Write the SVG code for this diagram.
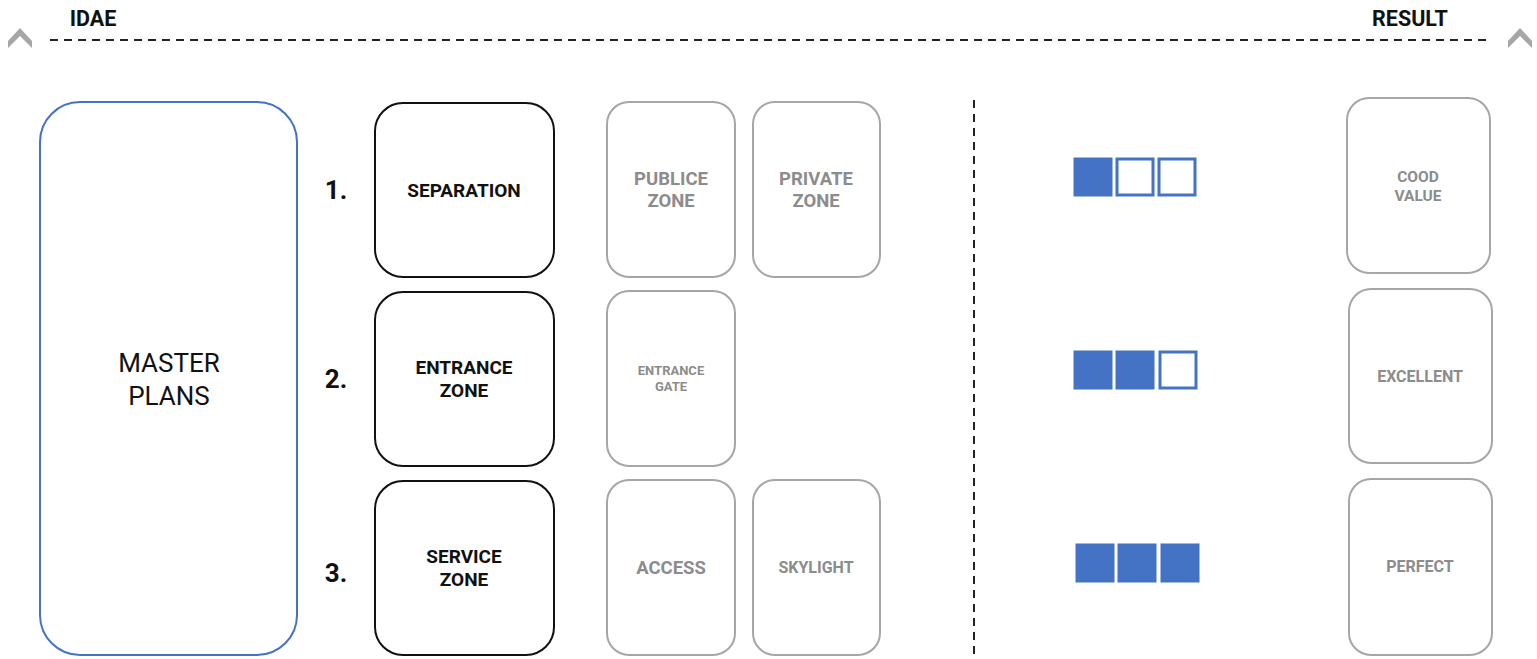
<svg xmlns="http://www.w3.org/2000/svg" width="1537" height="659" viewBox="0 0 1537 659">
<style>
text{font-family:Roboto,"Liberation Sans",sans-serif;text-anchor:middle}
.hd{font-size:21.5px;font-weight:bold;fill:#111}
.num{font-size:26px;font-weight:bold;fill:#111}
.blk{fill:#fff;stroke:#111;stroke-width:2}
.gry{fill:#fff;stroke:#a6a6a6;stroke-width:2}
.bt{font-size:19px;font-weight:bold;fill:#111}
.gt{font-weight:bold;fill:#8c8c8c}
.sqf{fill:#4472c4;stroke:#4472c4;stroke-width:1}
.sqe{fill:#fff;stroke:#4472c4;stroke-width:3}
.dash{stroke:#222;stroke-width:2;stroke-dasharray:8 6;fill:none}
.chev{fill:#a6a6a6}
</style>
<g id="header">
<text class="hd" x="93" y="26">IDAE</text>
<text class="hd" x="1410" y="26">RESULT</text>
<polygon class="chev" points="8,41 20,28 32,41 32,48 20,36 8,48"/>
<polygon class="chev" points="1508,41 1520,28 1532,41 1532,48 1520,36 1508,48"/>
</g>
<g id="connectors">
<line class="dash" x1="50" y1="40" x2="1490" y2="40"/>
<line class="dash" x1="974" y1="100" x2="974" y2="655"/>
</g>
<g id="master">
<rect x="40" y="102" width="257" height="553" rx="40" fill="#fff" stroke="#4472c4" stroke-width="2"/>
<text x="169" y="372" font-size="26" fill="#111">MASTER</text>
<text x="169" y="405" font-size="26" fill="#111">PLANS</text>
</g>
<g id="n1"><text class="num" x="336" y="199">1.</text></g>
<g id="n2"><text class="num" x="336" y="388">2.</text></g>
<g id="n3"><text class="num" x="336" y="582">3.</text></g>
<g id="separation">
<rect class="blk" x="375" y="103" width="179" height="174" rx="28"/>
<text class="bt" x="464" y="197">SEPARATION</text>
</g>
<g id="entrance">
<rect class="blk" x="375" y="292" width="179" height="174" rx="28"/>
<text class="bt" x="464" y="374">ENTRANCE</text>
<text class="bt" x="464" y="397">ZONE</text>
</g>
<g id="service">
<rect class="blk" x="375" y="481" width="179" height="174" rx="28"/>
<text class="bt" x="464" y="563">SERVICE</text>
<text class="bt" x="464" y="586">ZONE</text>
</g>
<g id="publice">
<rect class="gry" x="607" y="102" width="128" height="175" rx="22"/>
<text class="gt" x="671" y="185" font-size="18.5">PUBLICE</text>
<text class="gt" x="671" y="207" font-size="18.5">ZONE</text>
</g>
<g id="private">
<rect class="gry" x="753" y="102" width="127" height="175" rx="22"/>
<text class="gt" x="816" y="185" font-size="18.5">PRIVATE</text>
<text class="gt" x="816" y="207" font-size="18.5">ZONE</text>
</g>
<g id="gate">
<rect class="gry" x="607" y="291" width="128" height="175" rx="22"/>
<text class="gt" x="671" y="375" font-size="13">ENTRANCE</text>
<text class="gt" x="671" y="391" font-size="13">GATE</text>
</g>
<g id="access">
<rect class="gry" x="607" y="480" width="128" height="175" rx="22"/>
<text class="gt" x="671" y="574" font-size="18.5">ACCESS</text>
</g>
<g id="skylight">
<rect class="gry" x="753" y="480" width="127" height="175" rx="22"/>
<text class="gt" x="816" y="573" font-size="16">SKYLIGHT</text>
</g>
<g id="rating1">
<rect class="sqf" x="1074" y="158" width="38" height="38"/>
<rect class="sqe" x="1117" y="159" width="36" height="36"/>
<rect class="sqe" x="1159" y="159" width="36" height="36"/>
</g>
<g id="rating2">
<rect class="sqf" x="1074" y="351" width="38" height="38"/>
<rect class="sqf" x="1116" y="351" width="38" height="38"/>
<rect class="sqe" x="1160" y="352" width="36" height="36"/>
</g>
<g id="rating3">
<rect class="sqf" x="1076" y="544" width="38" height="38"/>
<rect class="sqf" x="1118" y="544" width="38" height="38"/>
<rect class="sqf" x="1161" y="544" width="38" height="38"/>
</g>
<g id="good">
<rect class="gry" x="1347" y="98" width="143" height="175" rx="22"/>
<text class="gt" x="1418" y="182" font-size="15.5">COOD</text>
<text class="gt" x="1418" y="201" font-size="15.5">VALUE</text>
</g>
<g id="excellent">
<rect class="gry" x="1349" y="289" width="143" height="174" rx="22"/>
<text class="gt" x="1420" y="382" font-size="16">EXCELLENT</text>
</g>
<g id="perfect">
<rect class="gry" x="1349" y="479" width="143" height="176" rx="22"/>
<text class="gt" x="1420" y="572" font-size="16">PERFECT</text>
</g>
</svg>
